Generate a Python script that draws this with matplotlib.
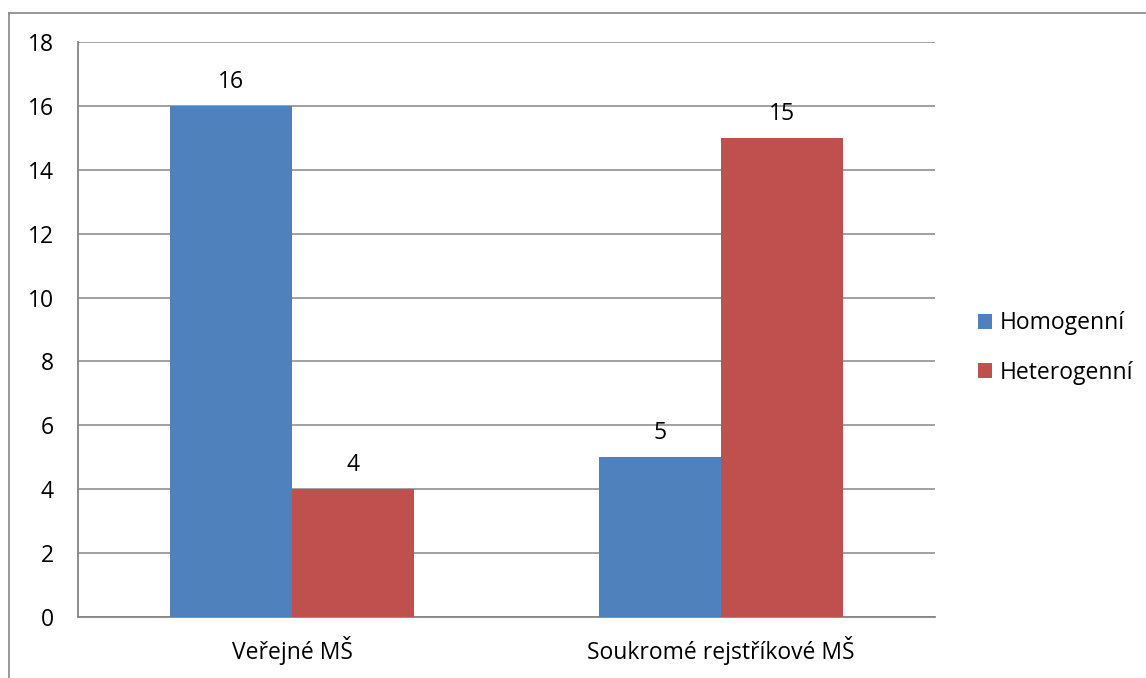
import matplotlib
matplotlib.use("Agg")
import matplotlib.pyplot as plt
from matplotlib.lines import Line2D
import numpy as np

categories = ["Veřejné MŠ", "Soukromé rejstříkové MŠ"]
series_names = ["Homogenní", "Heterogenní"]
homogenni = [16, 5]
heterogenni = [4, 15]
yticks = [0, 2, 4, 6, 8, 10, 12, 14, 16, 18]

colors = ["#4F81BD", "#C0504D"]
grid_c = "#868686"

plt.rcParams['font.family'] = ['Open Sans', 'DejaVu Sans']
FS = 16.5

fig = plt.figure(figsize=(11.46, 6.78), dpi=100)
ax = fig.add_axes([78/1146, 1-617/678, (935-78)/1146, (617-42)/678])

x = np.arange(len(categories))
w = 0.285
b1 = ax.bar(x - w/2, homogenni, w, color=colors[0], label=series_names[0], zorder=3)
b2 = ax.bar(x + w/2, heterogenni, w, color=colors[1], label=series_names[1], zorder=3)

for bars in (b1, b2):
    for r in bars:
        ax.annotate(f"{int(r.get_height())}", (r.get_x() + r.get_width()/2, r.get_height()),
                    xytext=(0, 8.5), textcoords="offset points", ha="center", va="bottom",
                    fontsize=FS, color="black")

ax.set_xlim(-0.5, 1.5)
ax.set_ylim(0, 18)
ax.set_yticks(yticks)
ax.set_yticklabels([str(v) for v in yticks], fontsize=FS)
ax.set_xticks(x)
ax.set_xticklabels(categories, fontsize=FS)
ax.tick_params(axis='y', length=0, pad=17.5)
ax.tick_params(axis='x', length=0, pad=13.5)
ax.yaxis.grid(True, color=grid_c, linewidth=1.1, zorder=0)
ax.set_axisbelow(True)
for s in ["top", "right"]:
    ax.spines[s].set_visible(False)
for s in ["left", "bottom"]:
    ax.spines[s].set_color(grid_c)
    ax.spines[s].set_linewidth(1.3)

leg = fig.legend(handles=[b1, b2], labels=series_names, loc="center left",
                 bbox_to_anchor=(978/1146, 1-348/678), frameon=False, fontsize=FS,
                 borderaxespad=0, borderpad=0,
                 handlelength=0.62, handleheight=0.62, handletextpad=0.35, labelspacing=1.12)

# outer chart border (partially cropped)
fig.add_artist(Line2D([9/1146, 9/1146], [0, 1-13/678], transform=fig.transFigure,
                      color=grid_c, linewidth=1.2))
fig.add_artist(Line2D([9/1146, 1], [1-13/678, 1-13/678], transform=fig.transFigure,
                      color=grid_c, linewidth=1.2))

fig.savefig("out.png", dpi=100, facecolor="white")
